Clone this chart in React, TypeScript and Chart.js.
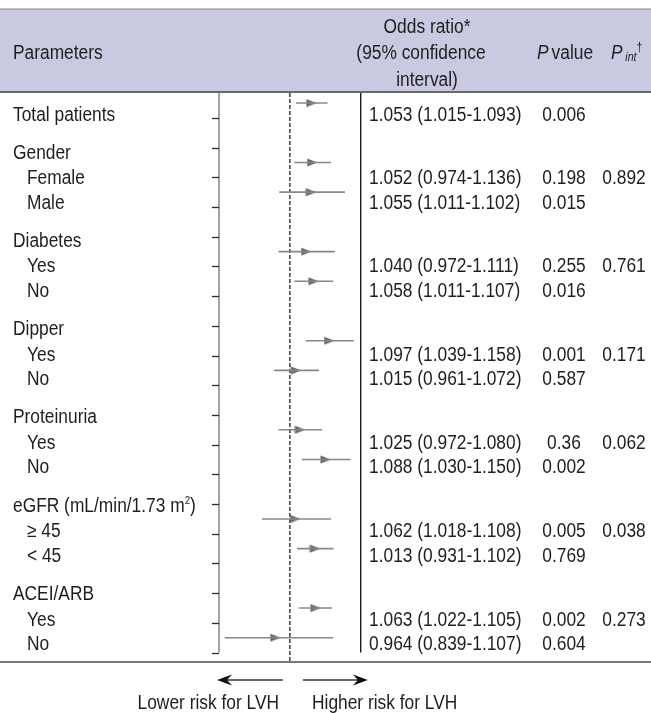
import React, { useEffect, useRef } from "react";
import { Chart, registerables } from "chart.js";

Chart.register(...registerables);

// ---------- DATA ----------
// Forest-plot rows as drawn (slot = row position on the plot, top = 0)
const plotSlots = [0, 2, 3, 5, 6, 8, 9, 11, 12, 14, 15, 17, 18];
const plotOR = [1.053, 1.055, 1.052, 1.04, 1.058, 1.097, 1.015, 1.025, 1.088, 1.013, 1.062, 1.063, 0.964];
const plotLow = [1.015, 1.011, 0.974, 0.972, 1.011, 1.039, 0.961, 0.972, 1.03, 0.931, 1.018, 1.022, 0.839];
const plotHigh = [1.093, 1.102, 1.136, 1.111, 1.107, 1.158, 1.072, 1.08, 1.15, 1.102, 1.108, 1.105, 1.107];

// Table rows
const rowLabels = [
  "Total patients",
  "Gender", "Female", "Male",
  "Diabetes", "Yes", "No",
  "Dipper", "Yes", "No",
  "Proteinuria", "Yes", "No",
  "eGFR (mL/min/1.73 m", "≥ 45", "< 45",
  "ACEI/ARB", "Yes", "No",
];
const rowIsSub = [false, false, true, true, false, true, true, false, true, true, false, true, true, false, true, true, false, true, true];
const orText = [
  "1.053 (1.015-1.093)",
  "", "1.052 (0.974-1.136)", "1.055 (1.011-1.102)",
  "", "1.040 (0.972-1.111)", "1.058 (1.011-1.107)",
  "", "1.097 (1.039-1.158)", "1.015 (0.961-1.072)",
  "", "1.025 (0.972-1.080)", "1.088 (1.030-1.150)",
  "", "1.062 (1.018-1.108)", "1.013 (0.931-1.102)",
  "", "1.063 (1.022-1.105)", "0.964 (0.839-1.107)",
];
const pValues = ["0.006", "", "0.198", "0.015", "", "0.255", "0.016", "", "0.001", "0.587", "", "0.36", "0.002", "", "0.005", "0.769", "", "0.002", "0.604"];
const pInt = ["", "", "0.892", "", "", "0.761", "", "", "0.171", "", "", "0.062", "", "", "0.038", "", "", "0.273", ""];

const xMin = 0.825;
const xMax = 1.175;
const refValue = 1;

// ---------- LAYOUT ----------
const W = 651;
const H = 713;
const FONT = '"Liberation Sans", Arial, Helvetica, sans-serif';
const FS = 19.5;
const SX = 0.89;
const TEXT = "#1e1e1e";

function rowCenterY(i: number): number {
  if (i === 0) return 113.5;
  const g = Math.floor((i - 1) / 3);
  const k = (i - 1) % 3;
  return 151.5 + 88.3 * g + (k === 0 ? 0 : k === 1 ? 25.5 : 50);
}

function makeMarker(): HTMLCanvasElement {
  const c = document.createElement("canvas");
  c.width = 11;
  c.height = 9;
  const g = c.getContext("2d")!;
  g.fillStyle = "#676767";
  g.beginPath();
  g.moveTo(0.5, 0.6);
  g.lineTo(10.8, 4.5);
  g.lineTo(0.5, 8.4);
  g.closePath();
  g.fill();
  return c;
}

const decorPlugin = {
  id: "forestDecor",
  beforeDraw(chart: any) {
    const ctx = chart.ctx;
    ctx.save();
    ctx.fillStyle = "#ffffff";
    ctx.fillRect(0, 0, W, H);
    // header band
    ctx.fillStyle = "rgb(201,201,225)";
    ctx.fillRect(0, 9, W, 83);
    ctx.strokeStyle = "#8a8a8a";
    ctx.lineWidth = 1.2;
    ctx.beginPath();
    ctx.moveTo(0, 9);
    ctx.lineTo(W, 9);
    ctx.stroke();
    ctx.strokeStyle = "#6a6a6a";
    ctx.lineWidth = 2;
    ctx.beginPath();
    ctx.moveTo(0, 92);
    ctx.lineTo(W, 92);
    ctx.stroke();
    // bottom rule
    ctx.strokeStyle = "#7a7a7a";
    ctx.lineWidth = 2;
    ctx.beginPath();
    ctx.moveTo(0, 662);
    ctx.lineTo(W, 662);
    ctx.stroke();
    ctx.restore();
  },
  beforeDatasetsDraw(chart: any) {
    const ctx = chart.ctx;
    const xs = chart.scales.x;
    const ys = chart.scales.y;
    const area = chart.chartArea;
    const top = 93;
    const bottom = ys.getPixelForValue(18.5);
    ctx.save();
    // left axis line
    ctx.strokeStyle = "#8c8c8c";
    ctx.lineWidth = 1.6;
    ctx.beginPath();
    ctx.moveTo(area.left, top);
    ctx.lineTo(area.left, bottom);
    ctx.stroke();
    // ticks
    ctx.strokeStyle = "#2a2a2a";
    ctx.lineWidth = 1.3;
    for (let k = 0; k < 19; k++) {
      const y = Math.round(ys.getPixelForValue(k + 0.5)) + 0.5;
      ctx.beginPath();
      ctx.moveTo(area.left - 7, y);
      ctx.lineTo(area.left, y);
      ctx.stroke();
    }
    // right solid line
    ctx.strokeStyle = "#1a1a1a";
    ctx.lineWidth = 1.4;
    ctx.beginPath();
    ctx.moveTo(area.right, top);
    ctx.lineTo(area.right, bottom);
    ctx.stroke();
    // dashed reference line at OR = 1
    const xr = xs.getPixelForValue(refValue);
    ctx.strokeStyle = "#4a4a4a";
    ctx.lineWidth = 1.6;
    ctx.setLineDash([4, 2]);
    ctx.beginPath();
    ctx.moveTo(xr, top);
    ctx.lineTo(xr, 661);
    ctx.stroke();
    ctx.setLineDash([]);
    ctx.restore();
  },
  afterDraw(chart: any) {
    const ctx = chart.ctx;
    const xs = chart.scales.x;
    const area = chart.chartArea;
    const xr = xs.getPixelForValue(refValue);
    const y = 680;
    const drawArrow = (from: number, to: number) => {
      const dir = to > from ? 1 : -1;
      ctx.strokeStyle = "#6a6a6a";
      ctx.lineWidth = 2;
      ctx.beginPath();
      ctx.moveTo(from, y);
      ctx.lineTo(to - dir * 8, y);
      ctx.stroke();
      ctx.fillStyle = "#111111";
      ctx.beginPath();
      ctx.moveTo(to, y);
      ctx.lineTo(to - dir * 15, y - 5.5);
      ctx.lineTo(to - dir * 10, y);
      ctx.lineTo(to - dir * 15, y + 5.5);
      ctx.closePath();
      ctx.fill();
    };
    ctx.save();
    drawArrow(xr - 7, area.left - 2);
    drawArrow(xr + 13, xr + 78);
    ctx.restore();
  },
};

function ForestChart() {
  const ref = useRef<HTMLCanvasElement | null>(null);
  useEffect(() => {
    if (!ref.current) return;
    const ciSets = plotSlots.map((s, i) => ({
      type: "scatter" as const,
      data: [
        { x: plotLow[i], y: s },
        { x: plotHigh[i], y: s },
      ],
      showLine: true,
      borderColor: "#888888",
      borderWidth: 1.6,
      pointRadius: 0,
      pointHoverRadius: 0,
    }));
    const markerSet = {
      type: "scatter" as const,
      data: plotOR.map((v, i) => ({ x: v, y: plotSlots[i] })),
      pointStyle: makeMarker(),
      pointRadius: 5,
    };
    const chart = new Chart(ref.current, {
      type: "scatter",
      data: { datasets: [...ciSets, markerSet] as any },
      options: {
        animation: false,
        responsive: false,
        devicePixelRatio: 1,
        events: [],
        layout: { padding: { left: 219, right: W - 360.7, top: 88.2, bottom: H - 652.6 } },
        plugins: { legend: { display: false }, tooltip: { enabled: false }, title: { display: false } },
        scales: {
          x: { type: "linear", min: xMin, max: xMax, display: false },
          y: { type: "linear", min: -0.5, max: 18.5, reverse: true, display: false },
        },
      },
      plugins: [decorPlugin],
    });
    return () => chart.destroy();
  }, []);
  return <canvas ref={ref} width={W} height={H} style={{ position: "absolute", left: 0, top: 0, width: W, height: H }} />;
}

const LH = 22;

function Cell(props: { x: number; y: number; w?: number; align?: "left" | "center" | "right"; children: any }) {
  const w = props.w ?? 260;
  const align = props.align ?? "left";
  let left = props.x;
  if (align === "center") left = props.x - w / 2;
  if (align === "right") left = props.x - w;
  const origin = align === "left" ? "left center" : align === "right" ? "right center" : "center center";
  return (
    <div
      style={{
        position: "absolute",
        left,
        top: props.y - LH / 2,
        width: w,
        height: LH,
        lineHeight: LH + "px",
        textAlign: align,
        whiteSpace: "nowrap",
        transform: `scaleX(${SX})`,
        transformOrigin: origin,
      }}
    >
      {props.children}
    </div>
  );
}

export default function App() {
  return (
    <div style={{ position: "fixed", left: 0, top: 0, width: W, height: H, background: "#fff", overflow: "hidden" }}>
      <ForestChart />
      <div style={{ position: "absolute", left: 0, top: 0, width: W, height: H, fontFamily: FONT, fontSize: FS, color: TEXT }}>
        {/* header */}
        <Cell x={13} y={52}>Parameters</Cell>
        <Cell x={427} y={25.5} align="center">Odds ratio*</Cell>
        <Cell x={421} y={52} align="center">(95% confidence</Cell>
        <Cell x={427} y={78.5} align="center">interval)</Cell>
        <Cell x={565} y={52} w={90} align="center">
          <span style={{ fontStyle: "italic" }}>P</span>
          <span style={{ marginLeft: -2 }}> value</span>
        </Cell>
        <Cell x={611} y={52} w={44}>
          <span style={{ fontStyle: "italic" }}>P</span>
          <span style={{ fontStyle: "italic", fontSize: 12, position: "relative", top: 2, marginLeft: 3 }}>int</span>
          <span style={{ fontSize: 12, position: "relative", top: -8 }}>†</span>
        </Cell>
        {/* body rows */}
        {rowLabels.map((lab, i) => (
          <Cell key={"l" + i} x={rowIsSub[i] ? 27 : 12.5} y={rowCenterY(i)}>
            {lab}
            {i === 13 ? (
              <>
                <span style={{ fontSize: 11, position: "relative", top: -8 }}>2</span>)
              </>
            ) : null}
          </Cell>
        ))}
        {orText.map((t, i) =>
          t ? (
            <Cell key={"o" + i} x={369} y={rowCenterY(i)}>
              {t}
            </Cell>
          ) : null
        )}
        {pValues.map((t, i) =>
          t ? (
            <Cell key={"p" + i} x={564} y={rowCenterY(i)} w={60} align="center">
              {t}
            </Cell>
          ) : null
        )}
        {pInt.map((t, i) =>
          t ? (
            <Cell key={"q" + i} x={623.5} y={rowCenterY(i)} w={60} align="center">
              {t}
            </Cell>
          ) : null
        )}
        {/* footer */}
        <Cell x={278.5} y={701.5} align="right">Lower risk for LVH</Cell>
        <Cell x={312} y={701.5}>Higher risk for LVH</Cell>
      </div>
    </div>
  );
}
